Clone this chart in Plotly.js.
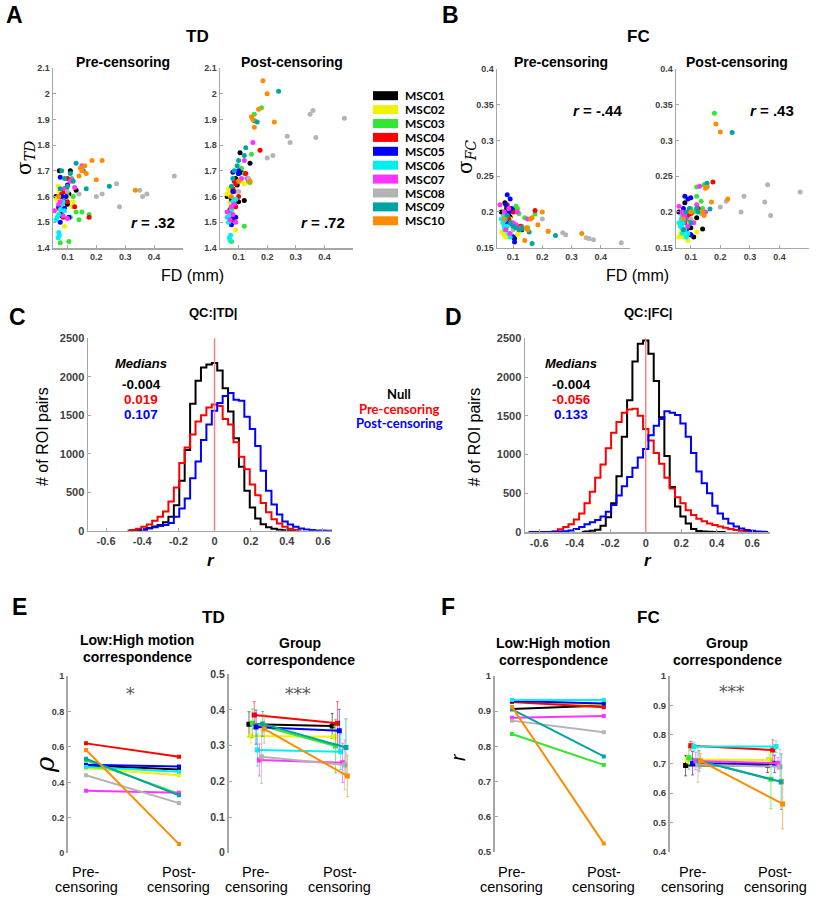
<!DOCTYPE html>
<html><head><meta charset="utf-8">
<script src="https://cdn.plot.ly/plotly-3.0.1.min.js"></script>
<style>body{margin:0;background:#fff}#chart{width:816px;height:900px}</style>
</head><body><div id="chart"></div>
<script>
// ---------------- DATA ----------------
const subjects = ['MSC01','MSC02','MSC03','MSC04','MSC05','MSC06','MSC07','MSC08','MSC09','MSC10'];

// Framewise displacement (mm) per session, pre- and post-censoring
const fdPre = [
 [0.06,0.072,0.078,0.085,0.09,0.095,0.10,0.105,0.11,0.13],
 [0.062,0.068,0.07,0.072,0.075,0.08,0.09,0.10,0.115,0.12],
 [0.075,0.08,0.105,0.11,0.115,0.12,0.13,0.14,0.15,0.175],
 [0.07,0.08,0.08,0.085,0.09,0.09,0.10,0.10,0.125,0.175],
 [0.07,0.075,0.075,0.08,0.08,0.085,0.09,0.095,0.10,0.105],
 [0.06,0.065,0.068,0.07,0.07,0.072,0.075,0.08,0.085,0.09],
 [0.055,0.07,0.075,0.085,0.09,0.10,0.11,0.115,0.125,0.15],
 [0.10,0.14,0.20,0.22,0.27,0.28,0.35,0.36,0.375,0.47],
 [0.075,0.08,0.09,0.10,0.11,0.12,0.13,0.155,0.165,0.245],
 [0.07,0.14,0.145,0.15,0.16,0.165,0.185,0.20,0.22,0.335]
];
const fdPost = [
 [0.06,0.08,0.09,0.095,0.10,0.10,0.105,0.11,0.12,0.14],
 [0.06,0.065,0.068,0.07,0.072,0.075,0.08,0.09,0.11,0.12],
 [0.075,0.10,0.11,0.12,0.12,0.135,0.14,0.145,0.155,0.18],
 [0.07,0.08,0.08,0.085,0.085,0.09,0.09,0.10,0.125,0.175],
 [0.07,0.075,0.075,0.08,0.08,0.08,0.085,0.09,0.10,0.10],
 [0.06,0.065,0.068,0.07,0.07,0.072,0.075,0.08,0.085,0.09],
 [0.06,0.07,0.075,0.08,0.085,0.09,0.11,0.12,0.13,0.15],
 [0.10,0.135,0.20,0.22,0.27,0.28,0.35,0.36,0.37,0.47],
 [0.075,0.08,0.085,0.095,0.10,0.12,0.125,0.155,0.165,0.24],
 [0.075,0.10,0.14,0.145,0.15,0.155,0.17,0.185,0.20,0.225]
];
// sigma TD per session
const tdPre = [
 [1.60,1.70,1.53,1.62,1.58,1.63,1.57,1.61,1.70,1.625],
 [1.59,1.64,1.60,1.62,1.55,1.57,1.485,1.60,1.56,1.58],
 [1.42,1.55,1.425,1.52,1.67,1.60,1.54,1.51,1.54,1.53],
 [1.555,1.60,1.61,1.52,1.62,1.63,1.67,1.58,1.56,1.52],
 [1.56,1.675,1.50,1.60,1.525,1.58,1.555,1.60,1.645,1.52],
 [1.51,1.52,1.44,1.46,1.53,1.45,1.55,1.57,1.58,1.545],
 [1.545,1.57,1.58,1.525,1.63,1.515,1.66,1.665,1.635,1.72],
 [1.62,1.61,1.60,1.61,1.65,1.56,1.625,1.60,1.61,1.68],
 [1.63,1.70,1.67,1.64,1.69,1.66,1.73,1.70,1.63,1.64],
 [1.60,1.68,1.71,1.70,1.72,1.69,1.74,1.665,1.74,1.625]
];
const tdPost = [
 [1.60,1.59,1.67,1.645,1.58,1.69,1.77,1.695,1.585,1.73],
 [1.61,1.63,1.62,1.58,1.60,1.57,1.55,1.47,1.66,1.65],
 [1.425,1.66,1.71,1.485,1.69,1.66,1.655,1.765,1.92,1.945],
 [1.55,1.51,1.63,1.62,1.66,1.56,1.65,1.60,1.69,1.78],
 [1.54,1.59,1.49,1.695,1.62,1.52,1.57,1.52,1.70,1.69],
 [1.52,1.50,1.44,1.43,1.53,1.45,1.55,1.58,1.59,1.59],
 [1.54,1.51,1.56,1.53,1.57,1.50,1.67,1.74,1.67,1.81],
 [1.62,1.67,1.75,1.76,1.835,1.81,1.92,1.935,1.83,1.905],
 [1.64,1.67,1.70,1.72,1.74,1.76,1.79,1.895,1.89,2.01],
 [1.60,1.66,1.66,1.91,1.90,1.87,1.94,2.05,2.00,1.89]
];
// sigma FC per session
const fcPre = [
 [0.20,0.213,0.205,0.195,0.193,0.184,0.165,0.163,0.205,0.175],
 [0.172,0.168,0.175,0.18,0.165,0.185,0.19,0.178,0.168,0.172],
 [0.19,0.185,0.20,0.208,0.205,0.198,0.18,0.192,0.178,0.197],
 [0.20,0.21,0.195,0.19,0.205,0.185,0.20,0.182,0.18,0.202],
 [0.195,0.21,0.175,0.224,0.185,0.20,0.218,0.205,0.165,0.158],
 [0.19,0.185,0.195,0.18,0.188,0.175,0.19,0.18,0.17,0.165],
 [0.21,0.20,0.175,0.205,0.17,0.185,0.182,0.20,0.178,0.19],
 [0.175,0.177,0.19,0.173,0.171,0.168,0.164,0.163,0.161,0.157],
 [0.19,0.195,0.185,0.18,0.178,0.175,0.177,0.172,0.156,0.167],
 [0.19,0.16,0.178,0.175,0.19,0.192,0.182,0.20,0.173,0.17]
];
const fcPost = [
 [0.20,0.213,0.195,0.19,0.168,0.178,0.20,0.165,0.192,0.176],
 [0.165,0.17,0.18,0.175,0.185,0.165,0.172,0.16,0.186,0.172],
 [0.19,0.205,0.20,0.235,0.222,0.215,0.205,0.238,0.236,0.338],
 [0.185,0.19,0.185,0.195,0.19,0.20,0.195,0.198,0.205,0.242],
 [0.20,0.205,0.185,0.222,0.195,0.19,0.175,0.218,0.22,0.168],
 [0.185,0.18,0.19,0.195,0.178,0.17,0.185,0.175,0.165,0.17],
 [0.208,0.20,0.195,0.195,0.19,0.18,0.185,0.21,0.236,0.20],
 [0.19,0.198,0.207,0.215,0.20,0.222,0.214,0.238,0.195,0.228],
 [0.175,0.19,0.20,0.205,0.185,0.205,0.20,0.24,0.204,0.311],
 [0.19,0.20,0.20,0.195,0.233,0.235,0.214,0.323,0.312,0.218]
];
const scatterR = ['r = .32','r = .72','r = -.44','r = .43'];

// Histograms (bin centres in r, counts of ROI pairs)
const binCenters = [-0.69,-0.66,-0.63,-0.60,-0.57,-0.54,-0.51,-0.48,-0.45,-0.42,-0.39,-0.36,-0.33,-0.30,-0.27,-0.24,-0.21,-0.18,-0.15,-0.12,-0.09,-0.06,-0.03,0,0.03,0.06,0.09,0.12,0.15,0.18,0.21,0.24,0.27,0.30,0.33,0.36,0.39,0.42,0.45,0.48,0.51,0.54,0.57,0.60,0.63,0.66,0.69];
const histSeries = ['Null','Pre-censoring','Post-censoring'];
const tdNull = [null,null,null,null,null,null,null,0,5,10,20,35,55,75,110,180,330,650,1050,1650,1950,2120,2160,2180,2080,1850,1550,1200,830,520,300,160,85,45,25,12,5,2,0,null,null,null,null,null,null,null,null];
const tdPreHist = [null,null,null,null,null,null,null,0,5,25,50,80,130,180,250,380,560,880,1080,1250,1420,1500,1600,1640,1620,1450,1380,1150,960,800,600,460,360,240,150,95,50,25,10,0,null,null,null,null,null,null,null];
const tdPostHist = [null,null,null,null,null,null,null,null,null,0,10,30,45,60,75,100,180,290,420,680,900,1180,1380,1560,1660,1750,1790,1700,1690,1480,1320,1100,780,520,340,210,120,80,50,30,15,8,4,2,0,0,null];
const fcNull = [null,null,null,null,null,null,null,null,null,null,null,0,5,15,30,80,190,370,720,1230,1700,2200,2430,2470,2300,1950,1480,980,580,330,200,110,40,12,5,2,0,0,0,null,null,null,null,null,null,null,null];
const fcPreHist = [null,null,null,null,null,0,10,35,65,100,160,240,370,520,700,870,1080,1280,1420,1540,1580,1590,1500,1330,1180,1020,880,700,560,450,370,280,220,170,140,110,90,70,55,40,25,15,8,3,0,null,null];
const fcPostHist = [null,0,0,0,0,0,0,5,10,20,40,65,100,125,155,200,260,350,470,590,710,830,960,1070,1250,1370,1460,1560,1540,1510,1400,1230,1020,780,630,500,340,240,170,110,70,45,25,15,5,2,0];
const tdMedians = ['-0.004','0.019','0.107'];
const fcMedians = ['-0.004','-0.056','0.133'];

// Correspondence (E: TD, F: FC), one value per subject
const conditionLines = [['Pre-','censoring'],['Post-','censoring']];
const eLowPre  = [0.495,0.48,0.525,0.62,0.50,0.487,0.353,0.44,0.533,0.583];
const eLowPost = [0.472,0.44,0.335,0.545,0.49,0.46,0.342,0.283,0.327,0.052];
const eGrpPre  = [0.36,0.327,0.363,0.386,0.352,0.288,0.26,0.269,0.361,0.347];
const eGrpPost = [0.355,0.325,0.299,0.363,0.342,0.283,0.252,0.246,0.295,0.215];
const eGrpPreErr  = [0.035,0.02,0.04,0.037,0.048,0.045,0.045,0.075,0.035,0.04];
const eGrpPostErr = [0.035,0.03,0.075,0.06,0.06,0.05,0.055,0.07,0.08,0.058];
const fLowPre  = [0.906,0.927,0.835,0.926,0.929,0.932,0.881,0.873,0.905,0.912];
const fLowPost = [0.916,0.918,0.747,0.911,0.922,0.932,0.886,0.840,0.771,0.523];
const fGrpPre  = [0.694,0.715,0.721,0.762,0.702,0.759,0.71,0.697,0.71,0.71];
const fGrpPost = [0.695,0.713,0.647,0.747,0.70,0.759,0.702,0.69,0.639,0.563];
const fGrpPreErr  = [0.035,0.015,0.04,0.015,0.04,0.015,0.03,0.06,0.035,0.025];
const fGrpPostErr = [0.025,0.02,0.1,0.035,0.03,0.02,0.02,0.06,0.095,0.085];

// ---------------- STYLE ----------------
const colors = ['#000000','#f2f200','#33e633','#ff0000','#0000ff','#00f0f0','#ff33ff','#b4b4b4','#00a4a4','#ff8c00'];
const errColors = ['rgba(0,0,0,0.55)','rgba(230,230,0,0.6)','rgba(40,220,40,0.6)','rgba(255,0,0,0.55)','rgba(0,0,255,0.55)','rgba(0,220,220,0.6)','rgba(255,50,255,0.6)','rgba(170,170,170,0.6)','rgba(0,160,160,0.6)','rgba(255,140,0,0.6)'];
const jitter = [-0.09,-0.067,-0.05,-0.027,-0.005,0.012,0.035,0.06,0.075,0.093];
const W = 816, H = 900;
const SANS = 'Liberation Sans, Arial, sans-serif';
const xd = (a,b) => [a/W, b/W];
const yd = (t,b) => [1-b/H, 1-t/H];

function ax(o){
  return Object.assign({showgrid:false, zeroline:false, showline:true, linecolor:'#a6a6a6', linewidth:1.5,
    ticks:'inside', ticklen:3, tickwidth:1, tickcolor:'#a6a6a6', fixedrange:true,
    tickfont:{family:SANS, size:9, color:'#404040', weight:'bold'}}, o);
}
const fdTicks = {tickvals:[0.1,0.2,0.3,0.4], ticktext:['0.1','0.2','0.3','0.4']};
const rTicks = {tickvals:[-0.6,-0.4,-0.2,0,0.2,0.4,0.6], ticktext:['-0.6','-0.4','-0.2','0','0.2','0.4','0.6']};
function tickList(a,b,s){const v=[];for(let t=a;t<=b+1e-9;t+=s)v.push(+t.toFixed(3));return v;}

const layout = {
  width:W, height:H, margin:{l:0,r:0,t:0,b:0}, paper_bgcolor:'#fff', plot_bgcolor:'rgba(0,0,0,0)', showlegend:false,
  xaxis:  ax(Object.assign({domain:xd(53,183), range:[0.05,0.5], anchor:'y'}, fdTicks)),
  yaxis:  ax({domain:yd(68,248), range:[1.4,2.1], anchor:'x', tickvals:tickList(1.4,2.1,0.1)}),
  xaxis2: ax(Object.assign({domain:xd(220,353), range:[0.035,0.5], anchor:'y2'}, fdTicks)),
  yaxis2: ax({domain:yd(68,248), range:[1.4,2.1], anchor:'x2', tickvals:tickList(1.4,2.1,0.1)}),
  xaxis3: ax(Object.assign({domain:xd(497,630), range:[0.045,0.5], anchor:'y3'}, fdTicks)),
  yaxis3: ax({domain:yd(69,247.7), range:[0.15,0.4], anchor:'x3', tickvals:tickList(0.15,0.4,0.05)}),
  xaxis4: ax(Object.assign({domain:xd(676,809), range:[0.05,0.5], anchor:'y4'}, fdTicks)),
  yaxis4: ax({domain:yd(69,247.7), range:[0.15,0.4], anchor:'x4', tickvals:tickList(0.15,0.4,0.05)}),
  xaxis5: ax(Object.assign({domain:xd(88,332), range:[-0.7,0.65], anchor:'y5', tickfont:{family:SANS,size:11,color:'#404040',weight:'bold'}}, rTicks)),
  yaxis5: ax({domain:yd(338.3,530.7), range:[0,2500], anchor:'x5', tickvals:tickList(0,2500,500), tickfont:{family:SANS,size:11,color:'#404040',weight:'bold'}}),
  xaxis6: ax(Object.assign({domain:xd(525,770), range:[-0.68,0.70], anchor:'y6', tickfont:{family:SANS,size:11,color:'#404040',weight:'bold'}}, rTicks)),
  yaxis6: ax({domain:yd(338.3,532), range:[0,2500], anchor:'x6', tickvals:tickList(0,2500,500), tickfont:{family:SANS,size:11,color:'#404040',weight:'bold'}}),
  xaxis7: ax({domain:xd(68,200), range:[0.806,2.226], anchor:'y7', showline:false, ticks:'', showticklabels:false}),
  yaxis7: ax({domain:yd(676,853.3), range:[0,1], anchor:'x7', linewidth:2, tickvals:tickList(0,1,0.2), tickfont:{family:SANS,size:9,color:'#404040',weight:'bold'}}),
  xaxis8: ax({domain:xd(229,353), range:[0.67,2.16], anchor:'y8', showline:false, ticks:'', showticklabels:false}),
  yaxis8: ax({domain:yd(674.3,852.7), range:[0,0.5], anchor:'x8', linewidth:2, tickvals:tickList(0,0.5,0.1), tickfont:{family:SANS,size:10.5,color:'#404040',weight:'bold'}}),
  xaxis9: ax({domain:xd(495,624), range:[0.815,2.22], anchor:'y9', showline:false, ticks:'', showticklabels:false}),
  yaxis9: ax({domain:yd(676,851.7), range:[0.5,1], anchor:'x9', linewidth:2, tickvals:tickList(0.5,1,0.1), tickfont:{family:SANS,size:9.5,color:'#404040',weight:'bold'}}),
  xaxis10: ax({domain:xd(670,798), range:[0.72,2.28], anchor:'y10', showline:false, ticks:'', showticklabels:false}),
  yaxis10: ax({domain:yd(676,851.7), range:[0.4,1], anchor:'x10', linewidth:2, tickvals:tickList(0.4,1,0.1), tickfont:{family:SANS,size:9.5,color:'#404040',weight:'bold'}}),
  shapes:[], annotations:[]
};

const traces = [];
// Scatter panels A and B
const scatterPanels = [
  {x:fdPre, y:tdPre, ax:''}, {x:fdPost, y:tdPost, ax:'2'},
  {x:fdPre, y:fcPre, ax:'3'}, {x:fdPost, y:fcPost, ax:'4'}
];
scatterPanels.forEach(p => {
  subjects.forEach((s,i) => {
    traces.push({type:'scatter', mode:'markers', name:s, x:p.x[i], y:p.y[i], xaxis:'x'+p.ax, yaxis:'y'+p.ax,
      marker:{color:colors[i], size:5}, hoverinfo:'skip'});
  });
});
// Histograms C and D
const histColors = ['#000000','#ff0000','#0000ff'];
[[tdNull,tdPreHist,tdPostHist,'5'],[fcNull,fcPreHist,fcPostHist,'6']].forEach(g => {
  [0,1,2].forEach(k => {
    traces.push({type:'scatter', mode:'lines', name:histSeries[k], x:binCenters, y:g[k], xaxis:'x'+g[3], yaxis:'y'+g[3],
      line:{shape:'hvh', color:histColors[k], width:2}, connectgaps:false, hoverinfo:'skip'});
  });
  layout.shapes.push({type:'line', xref:'x'+g[3], yref:'y'+g[3]+' domain', x0:0, x1:0, y0:0, y1:1, line:{color:'#ff8080', width:1.5}});
});
// Correspondence panels E and F
function lowPanel(pre, post, a){
  subjects.forEach((s,i) => traces.push({type:'scatter', mode:'lines+markers', name:s, x:[1,2], y:[pre[i],post[i]],
    xaxis:'x'+a, yaxis:'y'+a, line:{color:colors[i], width:2}, marker:{symbol:'square', size:4, color:colors[i]}, hoverinfo:'skip'}));
}
function grpPanel(pre, post, preE, postE, a){
  subjects.forEach((s,i) => traces.push({type:'scatter', mode:'lines+markers', name:s, x:[1+jitter[i],2+jitter[i]], y:[pre[i],post[i]],
    xaxis:'x'+a, yaxis:'y'+a, line:{color:colors[i], width:2}, marker:{symbol:'square', size:5, color:colors[i]},
    error_y:{type:'data', array:[preE[i],postE[i]], visible:true, color:errColors[i], thickness:1, width:1.5}, hoverinfo:'skip'}));
}
lowPanel(eLowPre, eLowPost, '7');
grpPanel(eGrpPre, eGrpPost, eGrpPreErr, eGrpPostErr, '8');
lowPanel(fLowPre, fLowPost, '9');
grpPanel(fGrpPre, fGrpPost, fGrpPreErr, fGrpPostErr, '10');

// ---------------- TEXT ----------------
function ann(text, x, y, font, extra){
  layout.annotations.push(Object.assign({text:text, x:x/W, y:1-y/H, xref:'paper', yref:'paper', showarrow:false,
    xanchor:'center', yanchor:'middle', font:Object.assign({family:SANS, size:14, color:'#000'}, font)}, extra||{}));
}
// panel letters
[['A',14,15],['B',450,15],['C',17,317],['D',453,317],['E',19,607],['F',448,607]].forEach(l => ann(l[0], l[1], l[2], {size:23, weight:'bold'}));
// panel titles
ann('TD',197,37,{size:17,weight:'bold'}); ann('FC',638,37,{size:17,weight:'bold'});
ann('Pre-censoring',123,62,{size:14,weight:'bold'}); ann('Post-censoring',292,62,{size:14,weight:'bold'});
ann('Pre-censoring',561,62,{size:14,weight:'bold'}); ann('Post-censoring',737,62,{size:14,weight:'bold'});
// r values
[[153,222],[323,222],[597,110],[772,110]].forEach((p,k) => {
  const t = scatterR[k].replace(/^r/, '<i>r</i>');
  ann(t, p[0], p[1], {size:15, weight:'bold'});
});
ann('FD (mm)',192,275,{size:16}); ann('FD (mm)',637,275,{size:16});
ann('σ<sub><i>TD</i></sub>',25,158,{family:'DejaVu Serif, serif',size:20},{textangle:-90});
ann('σ<sub><i>FC</i></sub>',466,157,{family:'DejaVu Serif, serif',size:20},{textangle:-90});
// subject legend
subjects.forEach((s,i) => {
  const yc = 95.7 + i*13.9;
  layout.shapes.push({type:'rect', xref:'paper', yref:'paper', x0:373/W, x1:398/W, y0:1-(yc+4.5)/H, y1:1-(yc-4.5)/H, fillcolor:colors[i], line:{width:0}});
  ann(s, 403, yc, {family:'Lato, sans-serif', size:12, weight:'bold'}, {xanchor:'left'});
});
// histogram panels
ann('QC:|TD|',212.5,313,{size:13,weight:'bold'}); ann('QC:|FC|',648,313,{size:13,weight:'bold'});
ann('<i>Medians</i>',141,364,{size:13,weight:'bold'}); ann('<i>Medians</i>',571,364,{size:13,weight:'bold'});
[384.3,399.3,414.3].forEach((y,k) => {
  ann(tdMedians[k],141,y,{size:13.5,weight:'bold',color:histColors[k]});
  ann(fcMedians[k],571,y,{size:13.5,weight:'bold',color:histColors[k]});
});
[394,408.5,423].forEach((y,k) => ann(histSeries[k],399,y,{family:'Lato, sans-serif',size:13,weight:'bold',color:histColors[k]}));
ann('# of ROI pairs',43,437,{size:16},{textangle:-90}); ann('# of ROI pairs',474.5,437,{size:16},{textangle:-90});
ann('<i>r</i>',210.7,560,{size:17,weight:'bold'}); ann('<i>r</i>',648,560,{size:17,weight:'bold'});
// correspondence panels
ann('TD',213,617,{size:17,weight:'bold'}); ann('FC',648,617,{size:17,weight:'bold'});
ann('Low:High motion',137,640,{size:14,weight:'bold'}); ann('correspondence',137,657,{size:14,weight:'bold'});
ann('Group',300,643,{size:14,weight:'bold'}); ann('correspondence',300,660,{size:14,weight:'bold'});
ann('Low:High motion',553,643,{size:14,weight:'bold'}); ann('correspondence',553,660,{size:14,weight:'bold'});
ann('Group',727,643,{size:14,weight:'bold'}); ann('correspondence',727,660,{size:14,weight:'bold'});
ann('*',130,694,{family:'DejaVu Serif, serif',size:17,color:'#555'});
ann('***',298,694,{family:'DejaVu Serif, serif',size:17,color:'#555'});
ann('***',732,692,{family:'DejaVu Serif, serif',size:17,color:'#555'});
ann('<i>ρ</i>',45,765,{family:'DejaVu Serif, serif',size:26},{textangle:-90});
ann('<i>r</i>',458,757,{size:20},{textangle:-90});
// condition labels under each correspondence plot
['7','8','9','10'].forEach(a => {
  [0,1].forEach(c => {
    conditionLines[c].forEach((line,li) => {
      layout.annotations.push({text:line, x:c+1, xref:'x'+a, y:1-(871.5+li*15.5)/H, yref:'paper', showarrow:false,
        xanchor:'center', yanchor:'middle', font:{family:SANS, size:14.5, color:'#000'}});
    });
  });
});

Plotly.newPlot('chart', traces, layout, {staticPlot:true, displayModeBar:false});
</script></body></html>
